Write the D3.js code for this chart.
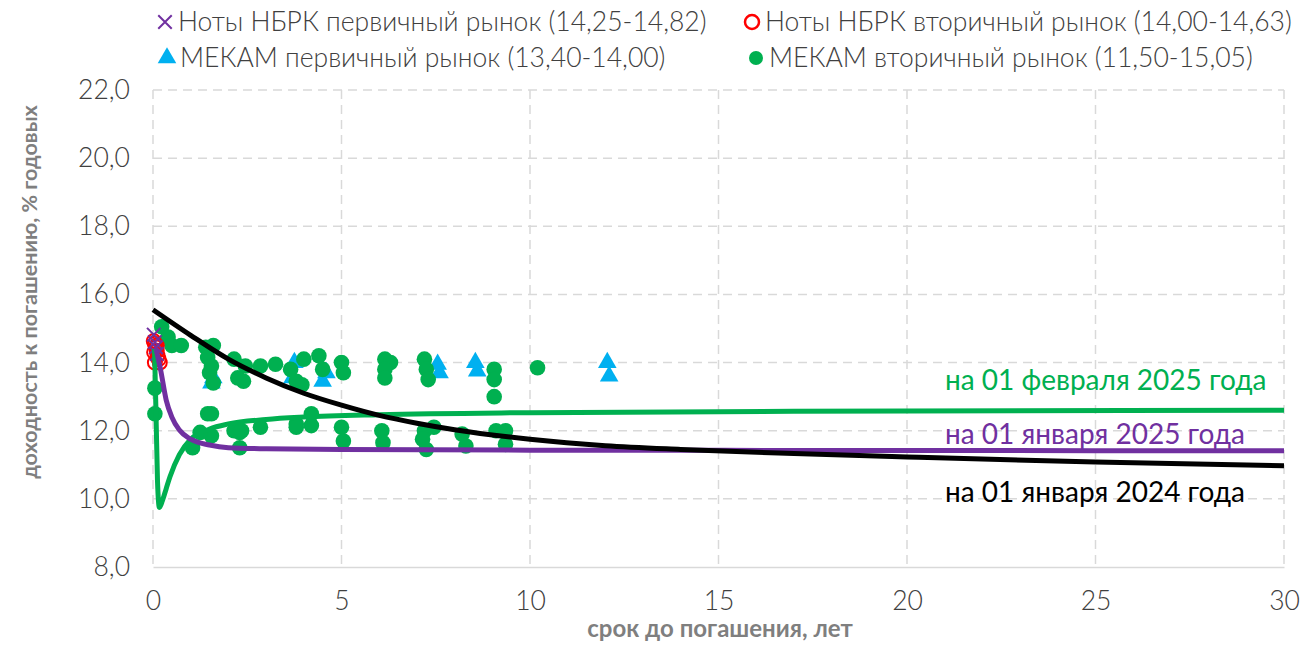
<!DOCTYPE html>
<html>
<head>
<meta charset="utf-8">
<title>Кривая доходности</title>
<script src="https://d3js.org/d3.v7.min.js"></script>
<style>
  body { margin: 0; background: #fff; }
  text { font-family: Lato, "Open Sans", sans-serif; }
</style>
</head>
<body>
<script>
// --- data ---
var notesPrimary = [[0.02, 14.82], [0.05, 14.6], [0.08, 14.45], [0.1, 14.25]];
var notesSecondary = [[0.02, 14.63], [0.05, 14.55], [0.08, 14.45], [0.1, 14.35], [0.03, 14.3],
  [0.12, 14.2], [0.15, 14.1], [0.05, 14.0], [0.18, 14.0], [0.1, 14.5]];
var mekamPrimary = [[1.55, 13.4], [1.6, 13.55], [3.7, 13.55], [3.75, 14.0], [4.5, 13.45], [4.6, 13.7],
  [7.55, 13.95], [7.6, 13.7], [8.55, 14.0], [8.6, 13.75], [12.05, 14.0], [12.1, 13.6]];
var mekamSecondary = [
  [0.05, 13.25], [0.05, 12.5], [0.23, 15.05], [0.4, 14.75], [0.5, 14.5], [0.75, 14.5],
  [1.05, 11.5], [1.4, 14.45], [1.6, 14.5], [1.45, 14.15], [1.5, 13.7], [1.6, 13.4], [1.55, 13.9],
  [1.45, 12.5], [1.55, 12.5], [1.55, 11.85], [1.25, 11.95],
  [2.15, 14.1], [2.25, 13.55], [2.45, 13.9], [2.4, 13.45], [2.15, 12.0], [2.3, 11.95], [2.3, 11.5], [2.35, 12.0],
  [2.85, 13.9], [3.25, 13.95], [2.85, 12.1],
  [3.65, 13.8], [3.8, 13.45], [3.95, 13.35], [4.0, 14.1], [4.4, 14.2], [4.5, 13.8],
  [3.8, 12.2], [3.8, 12.1], [4.2, 12.5], [4.2, 12.15],
  [5.0, 14.0], [5.05, 13.7], [5.0, 12.1], [5.05, 11.7],
  [6.15, 14.1], [6.3, 14.0], [6.15, 13.8], [6.15, 13.55], [6.07, 12.0], [6.1, 11.65],
  [7.2, 14.1], [7.25, 13.8], [7.3, 13.5], [7.2, 12.0], [7.45, 12.1], [7.15, 11.75], [7.25, 11.45],
  [8.2, 11.9], [8.3, 11.55],
  [9.05, 13.8], [9.05, 13.5], [9.05, 13.0], [9.1, 12.0], [9.35, 12.0], [9.35, 11.6],
  [10.2, 13.85]
];
var curve2024 = [[0, 15.55], [1, 14.8], [2, 14.1], [3, 13.55], [4, 13.1], [5, 12.75], [6, 12.45], [7, 12.22],
  [8, 12.03], [10, 11.75], [12, 11.56], [14, 11.45], [17, 11.33], [20, 11.23], [25, 11.08], [30, 10.97]];
var curveJan2025 = [[0.08, 14.4], [0.2, 13.8], [0.35, 12.9], [0.5, 12.4], [0.7, 12.02], [1, 11.75],
  [1.5, 11.58], [2, 11.5], [3, 11.47], [5, 11.45], [10, 11.43], [20, 11.42], [30, 11.41]];
var curveFeb2025 = [[0.04, 14.4], [0.08, 12.5], [0.12, 10.5], [0.17, 9.75], [0.25, 9.95], [0.35, 10.3],
  [0.45, 10.65], [0.7, 11.3], [1, 11.75], [1.5, 12.05], [2, 12.2], [3, 12.33], [4, 12.4], [6, 12.47],
  [10, 12.53], [15, 12.56], [20, 12.58], [30, 12.6]];
var xTicks = [0, 5, 10, 15, 20, 25, 30];
var yTicks = [8, 10, 12, 14, 16, 18, 20, 22];
var legendLabels = ["Ноты НБРК первичный рынок (14,25-14,82)", "Ноты НБРК вторичный рынок (14,00-14,63)",
  "МЕКАМ первичный рынок (13,40-14,00)", "МЕКАМ вторичный рынок (11,50-15,05)"];
var curveLabels = ["на 01 февраля 2025 года", "на 01 января 2025 года", "на 01 января 2024 года"];

// --- setup ---
var w = 1301, h = 646;
var svg = d3.select("body").append("svg").attr("width", w).attr("height", h);

var x = d3.scaleLinear().domain([0, 30]).range([153, 1284]);
var y = d3.scaleLinear().domain([8, 22]).range([567, 90]);

var green = "#00b050", purple = "#7030a0", blue = "#00b0f0", red = "#ff0000", tickCol = "#404040";

// grid
svg.append("g").selectAll("line").data(yTicks.filter(d => d > 8)).enter().append("line")
  .attr("x1", x(0)).attr("x2", x(30)).attr("y1", d => y(d)).attr("y2", d => y(d))
  .attr("stroke", "#d9d9d9").attr("stroke-width", 1.5).attr("stroke-dasharray", "9,6");
svg.append("g").selectAll("line").data(xTicks).enter().append("line")
  .attr("x1", d => x(d)).attr("x2", d => x(d)).attr("y1", y(22)).attr("y2", y(8))
  .attr("stroke", "#d9d9d9").attr("stroke-width", 1.5).attr("stroke-dasharray", "9,6");

// axes
var xAxis = svg.append("g").attr("transform", "translate(0," + y(8) + ")")
  .call(d3.axisBottom(x).tickValues(xTicks).tickSize(0).tickPadding(24));
xAxis.select(".domain").attr("stroke", "#d9d9d9").attr("stroke-width", 1.5);
xAxis.selectAll("text").attr("font-size", 26.5).attr("font-weight", 300).attr("fill", tickCol)
  .attr("font-family", "Lato, sans-serif");

var yAxis = svg.append("g").attr("transform", "translate(" + x(0) + ",0)")
  .call(d3.axisLeft(y).tickValues(yTicks).tickSize(0).tickPadding(23).tickFormat(d => d3.format(".1f")(d).replace(".", ",")));
yAxis.select(".domain").remove();
yAxis.selectAll("text").attr("font-size", 26.5).attr("font-weight", 300).attr("fill", tickCol)
  .attr("font-family", "Lato, sans-serif");

// axis titles
svg.append("text").attr("x", 720).attr("y", 637).attr("text-anchor", "middle")
  .attr("font-size", 24).attr("font-weight", 700).attr("fill", "#7f7f7f").text("срок до погашения, лет");
svg.append("text").attr("transform", "translate(37,292) rotate(-90)").attr("text-anchor", "middle")
  .attr("font-size", 21.5).attr("font-weight", 700).attr("fill", "#7f7f7f").text("доходность к погашению, % годовых");

// points
var tri = d3.symbol().type(d3.symbolTriangle).size(150);
svg.append("g").selectAll("path").data(mekamPrimary).enter().append("path")
  .attr("d", tri).attr("transform", d => "translate(" + x(d[0]) + "," + y(d[1]) + ")").attr("fill", blue);

svg.append("g").selectAll("circle").data(mekamSecondary).enter().append("circle")
  .attr("cx", d => x(d[0])).attr("cy", d => y(d[1])).attr("r", 7.8).attr("fill", green);

svg.append("g").selectAll("circle").data(notesSecondary).enter().append("circle")
  .attr("cx", d => x(d[0])).attr("cy", d => y(d[1])).attr("r", 7)
  .attr("fill", "none").attr("stroke", red).attr("stroke-width", 2);

var cross = d3.symbol().type(d3.symbolX).size(120);
svg.append("g").selectAll("path").data(notesPrimary).enter().append("path")
  .attr("d", cross).attr("transform", d => "translate(" + x(d[0]) + "," + y(d[1]) + ")")
  .attr("fill", "none").attr("stroke", purple).attr("stroke-width", 2);

// curves
var line = d3.line().x(d => x(d[0])).y(d => y(d[1])).curve(d3.curveMonotoneX);
[[curveFeb2025, green], [curveJan2025, purple], [curve2024, "#000"]].forEach(function (c) {
  svg.append("path").datum(c[0]).attr("d", line).attr("fill", "none")
    .attr("stroke", c[1]).attr("stroke-width", 5);
});

// curve labels
var lblY = [390, 444, 502];
var lblCol = [green, purple, "#000"];
curveLabels.forEach(function (t, i) {
  svg.append("text").attr("x", 945).attr("y", lblY[i]).attr("font-size", 28)
    .attr("fill", lblCol[i]).attr("font-family", "'Open Sans', sans-serif").text(t);
});

// legend
var lg = [
  {x: 165, y: 22, t: legendLabels[0], k: "x"},
  {x: 752, y: 22, t: legendLabels[1], k: "o"},
  {x: 167, y: 58, t: legendLabels[2], k: "tri"},
  {x: 756, y: 58, t: legendLabels[3], k: "dot"}
];
lg.forEach(function (d) {
  var g = svg.append("g").attr("transform", "translate(" + d.x + "," + d.y + ")");
  if (d.k === "x") g.append("path").attr("d", cross).attr("fill", "none").attr("stroke", purple).attr("stroke-width", 2);
  if (d.k === "o") g.append("circle").attr("r", 7).attr("fill", "none").attr("stroke", red).attr("stroke-width", 2.5);
  if (d.k === "tri") g.append("path").attr("d", tri).attr("fill", blue);
  if (d.k === "dot") g.append("circle").attr("r", 7).attr("fill", green);
  g.append("text").attr("x", 13).attr("y", 9).attr("font-size", 26.5).attr("font-weight", 300)
    .attr("fill", tickCol).text(d.t);
});
</script>
</body>
</html>
